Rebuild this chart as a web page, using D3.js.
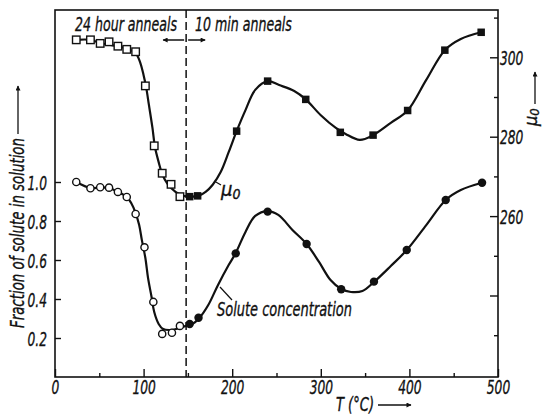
<!DOCTYPE html>
<html>
<head>
<meta charset="utf-8">
<script src="https://cdn.jsdelivr.net/npm/d3@7"></script>
<style>
  body { margin: 0; background: #fff; }
  text { font-family: "Liberation Sans Narrow", "DejaVu Sans Condensed", "Liberation Sans", sans-serif; font-style: italic; fill: #111; stroke: #111; stroke-width: 0.35px; }
</style>
</head>
<body>
<div id="chart"></div>
<script>
// measured points, temperature in degC
const muOpenT = [24, 40, 51, 61, 71, 81, 91, 102, 112, 121, 131, 141];
const muOpenV = [304.4, 304.4, 303.5, 303.9, 302.8, 302.0, 301.4, 292.8, 277.7, 270.8, 268.0, 264.9];
const muFillT = [152, 161, 205, 240, 283, 322, 359, 398, 440, 481];
const muFillV = [264.9, 265.1, 281.4, 294.0, 289.4, 281.1, 280.4, 286.6, 301.8, 306.3];

const solOpenT = [24, 40, 51, 61, 71, 81, 91, 101, 111, 121, 132, 141];
const solOpenV = [1.0, 0.968, 0.973, 0.971, 0.949, 0.923, 0.836, 0.665, 0.385, 0.221, 0.227, 0.262];
const solFillT = [152, 162, 204, 240, 284, 323, 360, 397, 441, 482];
const solFillV = [0.272, 0.304, 0.634, 0.848, 0.682, 0.45, 0.489, 0.651, 0.908, 0.996];

// drawn curves
const muCurveT = [24, 40, 51, 71, 85, 91, 96, 100, 103, 106, 110, 113, 117, 121, 127, 136, 145, 153, 162, 170, 178, 187, 196, 205, 215, 226, 240, 253, 270, 283, 300, 317, 328, 344, 359, 379, 398, 419, 440, 458, 481];
const muCurveV = [304.4, 304.4, 303.6, 302.8, 301.8, 301.1, 298.8, 295.5, 292.3, 288, 282.2, 277.2, 273.6, 270.6, 268.1, 266.1, 265.1, 264.9, 265.1, 266.1, 267.9, 271.1, 276.1, 281.4, 286.7, 291.8, 294, 293, 291.5, 289.4, 285.4, 282.2, 280.7, 279.2, 280.4, 283.5, 286.6, 294.3, 301.8, 304.6, 306.3];
const solCurveT = [24, 40, 51, 61, 71, 81, 86, 91, 95, 98, 102, 105, 109, 112, 117, 122, 130, 139, 148, 155, 163, 173, 184, 196, 204, 215, 226, 240, 252, 268, 284, 298, 311, 323, 334, 347, 360, 379, 397, 419, 441, 458, 482];
const solCurveV = [1.0, 0.969, 0.972, 0.969, 0.949, 0.923, 0.892, 0.841, 0.779, 0.703, 0.61, 0.508, 0.41, 0.333, 0.272, 0.246, 0.241, 0.249, 0.262, 0.272, 0.303, 0.369, 0.472, 0.574, 0.636, 0.744, 0.826, 0.851, 0.831, 0.754, 0.682, 0.59, 0.497, 0.451, 0.436, 0.441, 0.487, 0.569, 0.651, 0.779, 0.908, 0.959, 0.996];

const xMajor = [0, 100, 200, 300, 400, 500];
const xMinor = [50, 150, 250, 350, 450];
const leftTicks = [0.2, 0.4, 0.6, 0.8, 1.0];
const rightMajor = [240, 260, 280, 300];
const rightLabels = [260, 280, 300];
const rightMinor = [230, 250, 270, 290, 310];
const annealSplit = 148;

const width = 544, height = 417;
const margin = {top: 10, right: 46, bottom: 40, left: 55};
const iw = width - margin.left - margin.right;
const ih = height - margin.top - margin.bottom;

const svg = d3.select("#chart").append("svg")
  .attr("width", width).attr("height", height);

const defs = svg.append("defs");
defs.append("marker").attr("id", "ah")
  .attr("viewBox", "0 0 10 10").attr("refX", 9).attr("refY", 5)
  .attr("markerWidth", 7).attr("markerHeight", 5).attr("markerUnits", "userSpaceOnUse")
  .attr("orient", "auto-start-reverse")
  .append("path").attr("d", "M0,0L10,5L0,10z").attr("fill", "#111");

const g = svg.append("g").attr("transform", `translate(${margin.left},${margin.top})`);

const x = d3.scaleLinear().domain([0, 500]).range([0, iw]);
const yL = d3.scaleLinear().domain([0, ih / 195]).range([ih, 0]);
const yR = d3.scaleLinear().domain([300 - (ih - 47.3) / 3.97, 300 + 47.3 / 3.97]).range([ih, 0]);

function squeeze(sel, k) {
  sel.each(function() {
    const w = this.getComputedTextLength();
    d3.select(this).attr("textLength", w * k).attr("lengthAdjust", "spacingAndGlyphs");
  });
}

// narrow a free label by scaling it horizontally to a given width
function fitLabel(parent, px, py, w, size, str) {
  const t = parent.append("text").style("font-size", size + "px").text(str);
  const k = w / t.node().getComputedTextLength();
  t.attr("transform", `translate(${px},${py}) scale(${k},1)`);
  return t;
}

// axes
function styleAxis(a) {
  a.select(".domain").remove();
  a.selectAll("line").attr("stroke", "#111").attr("stroke-width", 1.4);
  a.selectAll("text").style("font-size", "20px").attr("fill", "#111");
}

const bx = g.append("g").attr("transform", `translate(0,${ih})`)
  .call(d3.axisBottom(x).tickValues(xMajor).tickSize(-8).tickPadding(3).tickFormat(d3.format("d")));
styleAxis(bx);
squeeze(bx.selectAll("text"), 0.68);
const bxm = g.append("g").attr("transform", `translate(0,${ih})`)
  .call(d3.axisBottom(x).tickValues(xMinor).tickSize(-4).tickFormat(""));
styleAxis(bxm);

const ly = g.append("g")
  .call(d3.axisLeft(yL).tickValues(leftTicks).tickSize(-6).tickPadding(8).tickFormat(d3.format(".1f")));
styleAxis(ly);
ly.selectAll("text").attr("dy", "0.36em");
squeeze(ly.selectAll("text"), 0.68);

const ry = g.append("g").attr("transform", `translate(${iw},0)`)
  .call(d3.axisRight(yR).tickValues(rightMajor).tickSize(-8).tickPadding(2)
    .tickFormat(d => rightLabels.includes(d) ? d : ""));
styleAxis(ry);
ry.selectAll("text").attr("dy", "0.36em");
squeeze(ry.selectAll("text"), 0.68);
const rym = g.append("g").attr("transform", `translate(${iw},0)`)
  .call(d3.axisRight(yR).tickValues(rightMinor).tickSize(-4).tickFormat(""));
styleAxis(rym);

// frame
g.append("rect").attr("width", iw).attr("height", ih)
  .attr("fill", "none").attr("stroke", "#111").attr("stroke-width", 1.6);

// divider between 24 h and 10 min anneals
g.append("line")
  .attr("x1", x(annealSplit)).attr("x2", x(annealSplit))
  .attr("y1", 0).attr("y2", ih)
  .attr("stroke", "#111").attr("stroke-width", 1.5).attr("stroke-dasharray", "8,4");

g.append("line")
  .attr("x1", x(annealSplit) - 2).attr("x2", x(annealSplit) - 23)
  .attr("y1", 30).attr("y2", 30)
  .attr("stroke", "#111").attr("stroke-width", 1.5).attr("marker-end", "url(#ah)");
g.append("line")
  .attr("x1", x(annealSplit) + 2).attr("x2", x(annealSplit) + 19)
  .attr("y1", 30).attr("y2", 30)
  .attr("stroke", "#111").attr("stroke-width", 1.5).attr("marker-end", "url(#ah)");

fitLabel(g, 20, 21, 102, 20, "24 hour anneals");
fitLabel(g, 140, 21, 97, 20, "10 min anneals");

// curves
const muLine = d3.line().x((d, i) => x(muCurveT[i])).y(d => yR(d)).curve(d3.curveCatmullRom);
const solLine = d3.line().x((d, i) => x(solCurveT[i])).y(d => yL(d)).curve(d3.curveCatmullRom);

g.append("path").attr("d", muLine(muCurveV))
  .attr("fill", "none").attr("stroke", "#111").attr("stroke-width", 2.2);
g.append("path").attr("d", solLine(solCurveV))
  .attr("fill", "none").attr("stroke", "#111").attr("stroke-width", 2.2);

// markers
const sq = 7.5;
g.selectAll(".mo").data(muOpenV).join("rect")
  .attr("x", (d, i) => x(muOpenT[i]) - sq / 2).attr("y", d => yR(d) - sq / 2)
  .attr("width", sq).attr("height", sq)
  .attr("fill", "#fff").attr("stroke", "#111").attr("stroke-width", 1.4);
g.selectAll(".mf").data(muFillV).join("rect")
  .attr("x", (d, i) => x(muFillT[i]) - sq / 2).attr("y", d => yR(d) - sq / 2)
  .attr("width", sq).attr("height", sq).attr("fill", "#111");
g.selectAll(".so").data(solOpenV).join("circle")
  .attr("cx", (d, i) => x(solOpenT[i])).attr("cy", d => yL(d)).attr("r", 3.6)
  .attr("fill", "#fff").attr("stroke", "#111").attr("stroke-width", 1.4);
g.selectAll(".sf").data(solFillV).join("circle")
  .attr("cx", (d, i) => x(solFillT[i])).attr("cy", d => yL(d)).attr("r", 4.2)
  .attr("fill", "#111");

// curve labels
g.append("line").attr("x1", 160).attr("y1", 171.5).attr("x2", 166).attr("y2", 175)
  .attr("stroke", "#111").attr("stroke-width", 1.2);
const mu = g.append("text").attr("x", 166).attr("y", 186).style("font-size", "20px");
mu.append("tspan").text("μ");
mu.append("tspan").attr("dy", 3).style("font-size", "14px").text("0");

g.append("line").attr("x1", 165).attr("y1", 277).attr("x2", 177).attr("y2", 290)
  .attr("stroke", "#111").attr("stroke-width", 1.2);
fitLabel(g, 162, 306, 135, 20, "Solute concentration");

// axis titles
fitLabel(svg, 336, 411, 38, 19, "T (°C)");
svg.append("line").attr("x1", 378).attr("x2", 411).attr("y1", 405).attr("y2", 405)
  .attr("stroke", "#111").attr("stroke-width", 1.3).attr("marker-end", "url(#ah)");

svg.append("text").attr("transform", "translate(24,328) rotate(-90)")
  .style("font-size", "20px")
  .attr("textLength", 190).attr("lengthAdjust", "spacingAndGlyphs")
  .text("Fraction of solute in solution");
svg.append("line").attr("x1", 18).attr("x2", 18).attr("y1", 134).attr("y2", 86)
  .attr("stroke", "#111").attr("stroke-width", 1.3).attr("marker-end", "url(#ah)");

const rt = svg.append("text").attr("transform", "translate(537,126) rotate(-90)").style("font-size", "18px");
rt.append("tspan").text("μ");
rt.append("tspan").attr("dy", 2).style("font-size", "13px").text("0");
svg.append("line").attr("x1", 535).attr("x2", 535).attr("y1", 104).attr("y2", 72)
  .attr("stroke", "#111").attr("stroke-width", 1.3).attr("marker-end", "url(#ah)");
</script>
</body>
</html>
